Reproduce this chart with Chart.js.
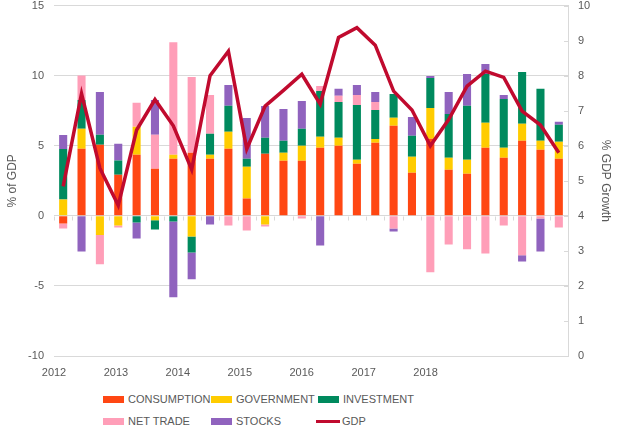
<!DOCTYPE html>
<html>
<head>
<meta charset="utf-8">
<script src="https://cdn.jsdelivr.net/npm/chart.js@4.4.1/dist/chart.umd.min.js"></script>
<style>
  body { margin: 0; background: #fff; font-family: "Liberation Sans", Arial, sans-serif; overflow: hidden; }
  #wrap { position: relative; width: 620px; height: 427px; overflow: hidden; }
  #box { position: absolute; left: 0; top: -11px; width: 620px; height: 396px; }
  #legend { position: absolute; left: 103px; top: 392px; display: grid;
            grid-template-columns: 108px 107px 120px; row-gap: 8px; font-size: 11px; color: #595959; }
  .item { display: flex; align-items: center; height: 14px; white-space: nowrap; }
  .sw { display: inline-block; width: 21px; height: 7px; margin-right: 4px; }
  .ln { display: inline-block; width: 24px; height: 3px; margin-left: -2px; margin-right: 2px; }
</style>
</head>
<body>
<div id="wrap">
  <div id="box"><canvas id="mixChart"></canvas></div>
  <div id="legend"></div>
</div>
<script>
const quarters = ['2012 Q1', '2012 Q2', '2012 Q3', '2012 Q4', '2013 Q1', '2013 Q2', '2013 Q3', '2013 Q4',
                  '2014 Q1', '2014 Q2', '2014 Q3', '2014 Q4', '2015 Q1', '2015 Q2', '2015 Q3', '2015 Q4',
                  '2016 Q1', '2016 Q2', '2016 Q3', '2016 Q4', '2017 Q1', '2017 Q2', '2017 Q3', '2017 Q4',
                  '2018 Q1', '2018 Q2', '2018 Q3', '2018 Q4'];
const yearLabels = ['2012', '2013', '2014', '2015', '2016', '2017', '2018'];

// contributions, % of GDP
const consumption = [-0.55, 4.79, 5.07, 2.94, 4.36, 3.36, 4.08, 4.5, 4.08, 4.79, 1.23, 4.43, 3.93, 3.93,
                     4.86, 5.0, 3.72, 5.21, 6.42, 3.08, 5.5, 3.29, 3.01, 4.86, 4.15, 5.36, 4.72, 4.08];
const government = [1.16, 1.42, -1.37, -0.69, 1.99, -0.31, 0.28, -1.47, 0.28, 1.21, 2.27, -0.62, 0.57, 1.07,
                    0.78, 0.57, 0.28, 0.28, 0.57, 1.14, 2.2, 0.85, 1.0, 1.78, 0.71, 1.21, 0.64, 1.21];
const investment = [3.6, 2.06, 0.71, 1.0, -0.47, -0.66, -0.4, -1.14, 1.49, 1.85, 0.57, 1.14, 0.85, 1.21,
                    3.27, 2.56, 3.91, 2.06, 1.71, 1.49, 2.13, 3.13, 3.84, 3.48, 3.48, 3.7, 3.7, 1.21];
const netTrade = [-0.35, 1.75, -2.09, -0.14, 1.71, 2.42, 8.03, 5.4, 2.77, -0.69, -1.04, -0.14, 0, -0.19,
                  0.36, 0.43, 0.71, 0.57, -0.9, 0, -4.03, -2.04, -2.39, -2.68, -0.69, -2.82, -0.19, -0.83];
const stocks = [1.0, -2.54, 3.06, 1.21, -1.14, 2.49, -5.4, -1.92, -0.62, 1.49, 2.91, 2.27, 2.27, 1.99,
                -2.11, 0.5, 0.71, 0.71, -0.21, 1.35, 0.14, 1.56, 2.27, 0.71, 0.28, -0.43, -2.35, 0.21];
// GDP growth, % (right axis)
const gdp = [4.84, 7.49, 5.36, 4.30, 6.45, 7.32, 6.57, 5.32, 8.0, 8.70, 5.91, 7.13, 7.58, 8.04,
             7.19, 9.09, 9.37, 8.87, 7.56, 7.02, 6.0, 6.75, 7.70, 8.13, 7.95, 6.99, 6.59, 5.80];

const textColor = '#595959';
const gridColor = '#d9d9d9';

function bars(label, data, color) {
    return {
        type: 'bar', label: label, data: data, backgroundColor: color,
        yAxisID: 'y', xAxisID: 'x', barPercentage: 0.44, categoryPercentage: 1, order: 1
    };
}

// little tick marks along the zero line and inside the right axis
const axisTicks = {
    id: 'axisTicks',
    afterDraw(chart) {
        const ctx = chart.ctx;
        const x = chart.scales.x, y = chart.scales.y, y2 = chart.scales.y2;
        const zero = Math.round(y.getPixelForValue(0)) + 0.5;
        ctx.save();
        ctx.strokeStyle = gridColor;
        ctx.lineWidth = 1;
        ctx.beginPath();
        for (let i = 0; i <= quarters.length; i++) {
            const px = Math.round(x.getPixelForValue(i - 0.5)) + 0.5;
            ctx.moveTo(px, zero);
            ctx.lineTo(px, zero + 4);
        }
        for (let v = 0; v <= 10; v++) {
            const py = Math.round(y2.getPixelForValue(v)) + 0.5;
            ctx.moveTo(y2.left - 4, py);
            ctx.lineTo(y2.left, py);
        }
        ctx.stroke();
        ctx.restore();
    }
};

const ctx = document.getElementById('mixChart').getContext('2d');
const chart = new Chart(ctx, {
    data: {
        labels: quarters,
        datasets: [
            bars('CONSUMPTION', consumption, '#FF4713'),
            bars('GOVERNMENT', government, '#FFCC00'),
            bars('INVESTMENT', investment, '#008A5E'),
            bars('NET TRADE', netTrade, '#FF9EB8'),
            bars('STOCKS', stocks, '#9063BE'),
            {
                type: 'line', label: 'GDP', data: gdp, yAxisID: 'y2', xAxisID: 'x',
                borderColor: '#C00A2E', borderWidth: 3.5, pointRadius: 0, tension: 0, fill: false, order: 0
            }
        ]
    },
    options: {
        responsive: true,
        maintainAspectRatio: false,
        animation: false,
        layout: { padding: { top: 5 } },
        plugins: { legend: { display: false }, tooltip: { enabled: false } },
        scales: {
            x: { type: 'category', stacked: true, display: false, offset: true },
            xYear: {
                type: 'linear', position: 'bottom', min: 2012, max: 2020.3,
                grid: { display: false }, border: { display: false },
                ticks: {
                    stepSize: 1, autoSkip: false, maxRotation: 0, padding: 2,
                    color: textColor, font: { family: 'Liberation Sans', size: 11 },
                    callback: (v) => yearLabels[v - 2012] || ''
                },
                afterFit: (s) => { s.height = 29; }
            },
            y: {
                position: 'left', stacked: true, min: -10, max: 15,
                ticks: { stepSize: 5, padding: 10, color: textColor, font: { family: 'Liberation Sans', size: 11 } },
                grid: { color: gridColor, drawTicks: false },
                border: { display: false },
                title: { display: true, text: '% of GDP', color: textColor,
                         font: { family: 'Liberation Sans', size: 12 }, padding: { top: 5, bottom: 0 } },
                afterFit: (s) => { s.width = 54; }
            },
            y2: {
                position: 'right', min: 0, max: 10,
                ticks: { stepSize: 1, padding: 10, color: textColor, font: { family: 'Liberation Sans', size: 11 } },
                grid: { drawOnChartArea: false, drawTicks: false },
                border: { display: true, color: gridColor },
                title: { display: true, text: '% GDP Growth', color: textColor,
                         font: { family: 'Liberation Sans', size: 12 }, padding: { top: 7, bottom: 0 } },
                afterFit: (s) => { s.width = 52; }
            }
        }
    },
    plugins: [axisTicks]
});

// legend laid out as a grid like the original
const legend = document.getElementById('legend');
chart.data.datasets.forEach(function (ds) {
    const item = document.createElement('div');
    item.className = 'item';
    const mark = document.createElement('span');
    if (ds.type === 'line') {
        mark.className = 'ln';
        mark.style.background = ds.borderColor;
    } else {
        mark.className = 'sw';
        mark.style.background = ds.backgroundColor;
    }
    item.appendChild(mark);
    item.appendChild(document.createTextNode(ds.label));
    legend.appendChild(item);
});
</script>
</body>
</html>
